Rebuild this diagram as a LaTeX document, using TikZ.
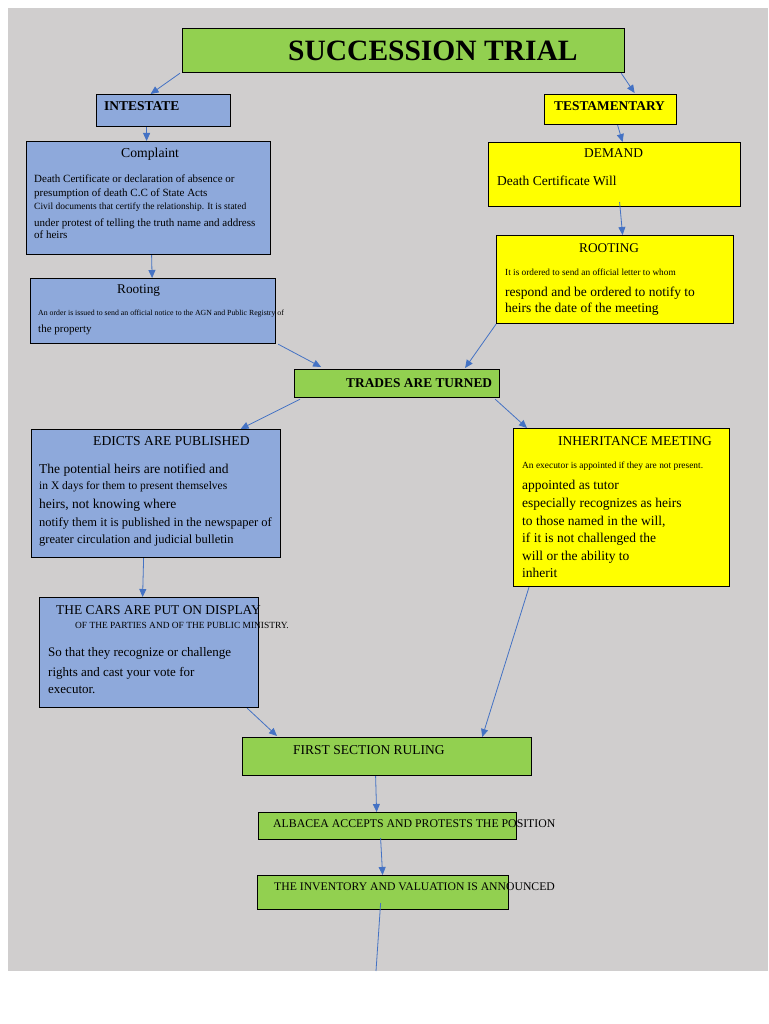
\documentclass[tikz,border=0pt]{standalone}
\usepackage{fontspec}
\setmainfont{Liberation Serif}
\usetikzlibrary{arrows.meta}
\definecolor{bggray}{HTML}{D0CECE}
\definecolor{boxblue}{HTML}{8EA9DB}
\definecolor{boxgreen}{HTML}{92D050}
\definecolor{boxyellow}{HTML}{FFFF00}
\definecolor{arrowblue}{HTML}{4472C4}
\begin{document}
\begin{tikzpicture}[x=1pt,y=-1pt,
  box/.style={draw=black, line width=1.2pt, inner sep=0pt, anchor=north west},
  bluebox/.style={box, fill=boxblue},
  greenbox/.style={box, fill=boxgreen},
  yellowbox/.style={box, fill=boxyellow},
  t/.style={anchor=base west, inner sep=0pt, font=\fontsize{#1}{#1}\selectfont},
  tb/.style={anchor=base west, inner sep=0pt, font=\fontsize{#1}{#1}\selectfont\bfseries},
  conn/.style={draw=arrowblue, line width=0.8pt, -{Triangle[length=8pt,width=7pt]}},
  connplain/.style={draw=arrowblue, line width=0.8pt}
]
\useasboundingbox (0,0) rectangle (768,1024);
\fill[bggray] (8,8) rectangle (768,971);

% boxes
\node[greenbox, minimum width=442pt, minimum height=44pt] (title) at (182,28) {};
\node[bluebox, minimum width=134pt, minimum height=32pt] (intestate) at (96,94) {};
\node[yellowbox, minimum width=132pt, minimum height=30pt] (testamentary) at (544,94) {};
\node[bluebox, minimum width=244pt, minimum height=113pt] (complaint) at (26,141) {};
\node[bluebox, minimum width=245pt, minimum height=65pt] (rootingL) at (30,278) {};
\node[yellowbox, minimum width=252pt, minimum height=64pt] (demand) at (488,142) {};
\node[yellowbox, minimum width=237pt, minimum height=88pt] (rootingR) at (496,235) {};
\node[greenbox, minimum width=205pt, minimum height=28pt] (trades) at (294,369) {};
\node[bluebox, minimum width=249pt, minimum height=128pt] (edicts) at (31,429) {};
\node[yellowbox, minimum width=216pt, minimum height=158pt] (inheritance) at (513,428) {};
\node[bluebox, minimum width=219pt, minimum height=110pt] (cars) at (39,597) {};
\node[greenbox, minimum width=289pt, minimum height=38pt] (first) at (242,737) {};
\node[greenbox, minimum width=258pt, minimum height=27pt] (albacea) at (258,812) {};
\node[greenbox, minimum width=251pt, minimum height=34pt] (inventory) at (257,875) {};

% texts
\node[tb=29.5] (titletxt) at (288,61) {SUCCESSION TRIAL};
\node[tb=13.5] (intestatetxt) at (104,111) {INTESTATE};
\node[tb=13.4] (testamentarytxt) at (554,111) {TESTAMENTARY};

\node[t=13.7] (complainttxt) at (121,158) {Complaint};
\node[t=11] (c1) at (34,183) {Death Certificate or declaration of absence or};
\node[t=11] (c2) at (34,197) {presumption of death C.C of State Acts};
\node[t=9.5] (c3) at (34,210) {Civil documents that certify the relationship. It is stated};
\node[t=11] (c4) at (34,226) {under protest of telling the truth name and address};
\node[t=11] (c5) at (34,239) {of heirs};

\node[t=13.3] (rootingLtxt) at (117,293) {Rooting};
\node[t=7.8] (rl1) at (38,315) {An order is issued to send an official notice to the AGN and Public Registry of};
\node[t=11] (rl2) at (38,332) {the property};

\node[t=13.4] (demandtxt) at (584,158) {DEMAND};
\node[t=13.5] (d1) at (497,186) {Death Certificate Will};

\node[t=13.3] (rootingRtxt) at (579,252) {ROOTING};
\node[t=9.3] (rr1) at (505,275) {It is ordered to send an official letter to whom};
\node[t=13.5] (rr2) at (505,296) {respond and be ordered to notify to};
\node[t=13.5] (rr3) at (505,312) {heirs the date of the meeting};

\node[tb=13.4] (tradestxt) at (346,387) {TRADES ARE TURNED};

\node[t=13.6] (edictstxt) at (93,445) {EDICTS ARE PUBLISHED};
\node[t=13.5] (e1) at (39,473) {The potential heirs are notified and};
\node[t=11.5] (e2) at (39,489) {in X days for them to present themselves};
\node[t=13.5] (e3) at (39,508) {heirs, not knowing where};
\node[t=12.5] (e4) at (39,526) {notify them it is published in the newspaper of};
\node[t=12.5] (e5) at (39,543) {greater circulation and judicial bulletin};

\node[t=13.5] (inheritancetxt) at (558,445) {INHERITANCE MEETING};
\node[t=9.4] (i0) at (522,468) {An executor is appointed if they are not present.};
\node[t=13.5] (i1) at (522,489) {appointed as tutor};
\node[t=13.5] (i2) at (522,507) {especially recognizes as heirs};
\node[t=13.5] (i3) at (522,525) {to those named in the will,};
\node[t=13.5] (i4) at (522,542) {if it is not challenged the};
\node[t=13.5] (i5) at (522,560) {will or the ability to};
\node[t=13.5] (i6) at (522,577) {inherit};

\node[t=13.4] (carstxt) at (56,614) {THE CARS ARE PUT ON DISPLAY};
\node[t=9.4] (cs) at (75,628) {OF THE PARTIES AND OF THE PUBLIC MINISTRY.};
\node[t=13] (k1) at (48,656) {So that they recognize or challenge};
\node[t=13] (k2) at (48,676) {rights and cast your vote for};
\node[t=13] (k3) at (48,693) {executor.};

\node[t=13.5] (firsttxt) at (293,754) {FIRST SECTION RULING};
\node[t=11.8] (albaceatxt) at (273,827) {ALBACEA ACCEPTS AND PROTESTS THE POSITION};
\node[t=11.7] (inventorytxt) at (274,890) {THE INVENTORY AND VALUATION IS ANNOUNCED};

\coordinate (bottomend) at (376,971);

% connectors
\draw[conn] ([xshift=-2pt]title.south west) -- ([xshift=-13pt]intestate.north);
\draw[conn] ([xshift=-4pt]title.south east) -- ([xshift=24pt,yshift=1pt]testamentary.north);
\draw[conn] ([xshift=-17pt]intestate.south) -- ([xshift=-2pt]complaint.north);
\draw[conn] ([xshift=7pt]testamentary.south) -- ([xshift=8pt]demand.north);
\draw[conn] ([xshift=3pt]complaint.south) -- ([xshift=-1pt]rootingL.north);
\draw[conn] ([xshift=5pt,yshift=5pt]demand.south) -- ([xshift=7.5pt]rootingR.north);
\draw[conn] ([xshift=2pt]rootingL.south east) -- ([xshift=-76pt,yshift=2pt]trades.north);
\draw[conn] (rootingR.south west) -- ([xshift=68pt,yshift=1pt]trades.north);
\draw[conn] ([xshift=6pt,yshift=-1pt]trades.south west) -- ([xshift=84.5pt]edicts.north);
\draw[conn] ([xshift=-5pt,yshift=-1pt]trades.south east) -- ([xshift=14pt]inheritance.north west);
\draw[conn] ([xshift=-12.5pt]edicts.south) -- ([xshift=-6.5pt]cars.north);
\draw[conn] ([xshift=16pt]inheritance.south west) -- ([xshift=-50pt]first.north east);
\draw[conn] ([xshift=-12pt]cars.south east) -- ([xshift=35pt,yshift=1pt]first.north west);
\draw[conn] ([xshift=-11.5pt]first.south) -- ([xshift=-11pt]albacea.north);
\draw[conn] ([xshift=-7pt,yshift=2pt]albacea.south) -- ([xshift=-0.5pt]inventory.north);
\draw[connplain] ([xshift=-2.5pt,yshift=7pt]inventory.south) -- (bottomend);
\end{tikzpicture}
\end{document}
